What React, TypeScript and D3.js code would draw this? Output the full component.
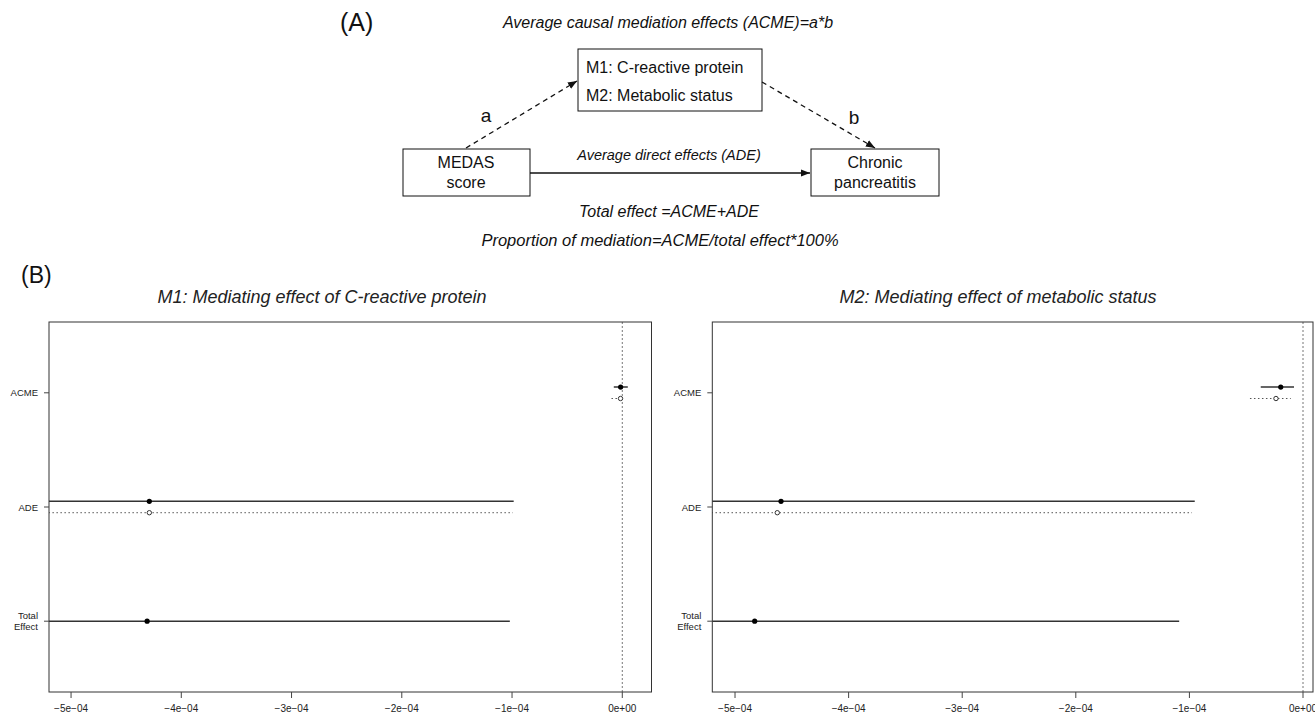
import React from "react";
import * as d3 from "d3";

// rows of the mediation plot (top to bottom)
const effectNames = ["ACME", "ADE", "Total Effect"];
const effectRows = [3, 2, 1];
const xTicks = [-5e-4, -4e-4, -3e-4, -2e-4, -1e-4, 0];

// M1: C-reactive protein  (treated = solid/filled, control = dotted/open)
const crpTreatedEst = [-1.5e-6, -4.29e-4, -4.31e-4];
const crpTreatedLow = [-7.7e-6, -7.6e-4, -7.6e-4];
const crpTreatedHigh = [5.0e-6, -0.985e-4, -1.02e-4];
const crpControlEst = [-1.6e-6, -4.29e-4];
const crpControlLow = [-9.8e-6, -7.6e-4];
const crpControlHigh = [0.7e-6, -0.993e-4];

// M2: metabolic status
const metTreatedEst = [-1.96e-5, -4.595e-4, -4.827e-4];
const metTreatedLow = [-3.72e-5, -8.2e-4, -8.6e-4];
const metTreatedHigh = [-0.79e-5, -0.953e-4, -1.09e-4];
const metControlEst = [-2.38e-5, -4.628e-4];
const metControlLow = [-4.67e-5, -8.2e-4];
const metControlHigh = [-1.08e-5, -0.977e-4];

const FONT = "'Liberation Sans', Arial, Helvetica, sans-serif";

function fmtSci(v: number) {
  const [m, e] = v.toExponential(0).split("e");
  const s = `${m}e${e[0]}${e.slice(1).padStart(2, "0")}`;
  return s.replace(/-/g, "\u2212");
}

type PanelProps = {
  id: string;
  title: string;
  titleX: number;
  left: number;
  right: number;
  domain: [number, number];
  tEst: number[];
  tLow: number[];
  tHigh: number[];
  cEst: number[];
  cLow: number[];
  cHigh: number[];
};

function Panel(p: PanelProps) {
  const top = 322;
  const bottom = 692;
  const x = d3.scaleLinear().domain(p.domain).range([p.left, p.right]);
  const y = d3.scaleLinear().domain([0.38, 3.62]).range([bottom, top]);
  const off = 0.05 * (y(0) - y(1));

  return (
    <g>
      <defs>
        <clipPath id={p.id}>
          <rect x={p.left} y={top} width={p.right - p.left} height={bottom - top} />
        </clipPath>
      </defs>
      <text x={p.titleX} y={303} textAnchor="middle" fontStyle="italic" fontSize={18} fill="#222">
        {p.title}
      </text>
      <line x1={x(0)} x2={x(0)} y1={top} y2={bottom} stroke="#777" strokeDasharray="2,2" />
      <g clipPath={`url(#${p.id})`}>
        {p.tEst.map((v, i) => {
          const yy = i < p.cEst.length ? y(effectRows[i]) - off : y(effectRows[i]);
          return (
            <g key={"t" + i}>
              <line x1={x(p.tLow[i])} x2={x(p.tHigh[i])} y1={yy} y2={yy} stroke="#333" strokeWidth={1.5} />
              <circle cx={x(v)} cy={yy} r={2.6} fill="#000" />
            </g>
          );
        })}
        {p.cEst.map((v, i) => {
          const yy = y(effectRows[i]) + off;
          return (
            <g key={"c" + i}>
              <line x1={x(p.cLow[i])} x2={x(p.cHigh[i])} y1={yy} y2={yy} stroke="#555" strokeWidth={1} strokeDasharray="1.5,2.5" />
              <circle cx={x(v)} cy={yy} r={2.2} fill="#fff" stroke="#333" strokeWidth={1} />
            </g>
          );
        })}
      </g>
      <rect x={p.left} y={top} width={p.right - p.left} height={bottom - top} fill="none" stroke="#333" strokeWidth={1} />
      {effectNames.map((name, i) => {
        const yy = y(effectRows[i]);
        const parts = name === "Total Effect" ? ["Total", "Effect"] : [name];
        return (
          <g key={name}>
            <line x1={p.left - 5} x2={p.left} y1={yy} y2={yy} stroke="#444" />
            {parts.map((t, k) => (
              <text
                key={t}
                x={p.left - 11}
                y={yy + 3.5 + (parts.length > 1 ? (k - 0.5) * 11.5 : 0)}
                textAnchor="end"
                fontSize={9.5}
                fill="#222"
              >
                {t}
              </text>
            ))}
          </g>
        );
      })}
      {xTicks.map((t) => (
        <g key={t}>
          <line x1={x(t)} x2={x(t)} y1={bottom} y2={bottom + 6} stroke="#444" />
          <text x={x(t)} y={bottom + 20} textAnchor="middle" fontSize={10} fill="#222">
            {fmtSci(t)}
          </text>
        </g>
      ))}
    </g>
  );
}

function Diagram() {
  return (
    <g fill="#111">
      <defs>
        <marker id="arr" viewBox="0 0 10 10" refX="10" refY="5" markerWidth="7" markerHeight="7" orient="auto">
          <path d="M0,1 L10,5 L0,9 z" fill="#111" />
        </marker>
      </defs>
      <text x={340} y={31} fontSize={25} fontWeight={300}>(A)</text>
      <text x={668} y={28} textAnchor="middle" fontStyle="italic" fontSize={16}>
        Average causal mediation effects (ACME)=a*b
      </text>

      <rect x={578} y={49} width={184} height={62} fill="#fff" stroke="#111" />
      <text x={586} y={73} fontSize={16}>M1: C-reactive protein</text>
      <text x={586} y={101} fontSize={16}>M2: Metabolic status</text>

      <rect x={403} y={149} width={127} height={47} fill="#fff" stroke="#111" />
      <text x={466} y={168} textAnchor="middle" fontSize={16}>MEDAS</text>
      <text x={466} y={188} textAnchor="middle" fontSize={16}>score</text>

      <rect x={811} y={149} width={128} height={47} fill="#fff" stroke="#111" />
      <text x={875} y={168} textAnchor="middle" fontSize={16}>Chronic</text>
      <text x={875} y={188} textAnchor="middle" fontSize={16}>pancreatitis</text>

      <line x1={530} y1={173} x2={810} y2={173} stroke="#111" strokeWidth={1.3} markerEnd="url(#arr)" />
      <text x={669} y={160} textAnchor="middle" fontStyle="italic" fontSize={14.5}>
        Average direct effects (ADE)
      </text>

      <line x1={466} y1={148} x2={577} y2={81} stroke="#111" strokeWidth={1.3} strokeDasharray="5,4" markerEnd="url(#arr)" />
      <line x1={762} y1={82} x2={875} y2={148} stroke="#111" strokeWidth={1.3} strokeDasharray="5,4" markerEnd="url(#arr)" />
      <text x={486} y={122} fontSize={19} textAnchor="middle">a</text>
      <text x={848} y={124} fontSize={19} textAnchor="middle" dx={6}>b</text>

      <text x={669} y={217} textAnchor="middle" fontStyle="italic" fontSize={16}>
        Total effect =ACME+ADE
      </text>
      <text x={660} y={246} textAnchor="middle" fontStyle="italic" fontSize={16.5}>
        Proportion of mediation=ACME/total effect*100%
      </text>

      <text x={21} y={283} fontSize={23} fontWeight={300}>(B)</text>
    </g>
  );
}

export default function App() {
  return (
    <svg
      width={1315}
      height={716}
      style={{ position: "absolute", left: 0, top: 0, background: "#fff", fontFamily: FONT }}
    >
      <Diagram />
      <Panel
        id="clipM1"
        title="M1: Mediating effect of C-reactive protein"
        titleX={322}
        left={49}
        right={651.5}
        domain={[-5.2e-4, 0.265e-4]}
        tEst={crpTreatedEst}
        tLow={crpTreatedLow}
        tHigh={crpTreatedHigh}
        cEst={crpControlEst}
        cLow={crpControlLow}
        cHigh={crpControlHigh}
      />
      <Panel
        id="clipM2"
        title="M2: Mediating effect of metabolic status"
        titleX={998}
        left={712.3}
        right={1313}
        domain={[-5.2e-4, 0.088e-4]}
        tEst={metTreatedEst}
        tLow={metTreatedLow}
        tHigh={metTreatedHigh}
        cEst={metControlEst}
        cLow={metControlLow}
        cHigh={metControlHigh}
      />
    </svg>
  );
}
